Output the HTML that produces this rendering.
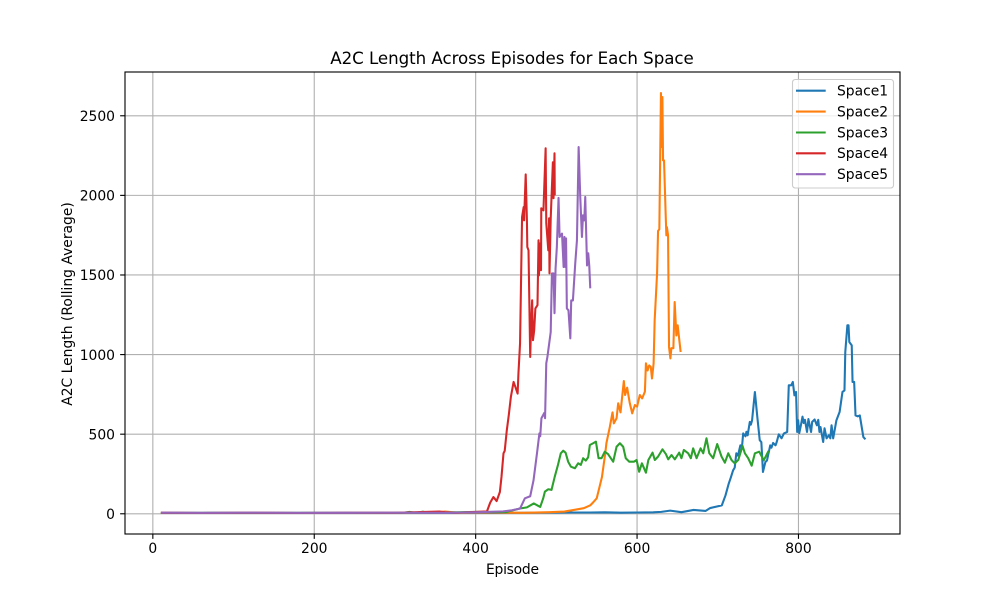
<!DOCTYPE html>
<html>
<head>
<meta charset="utf-8">
<title>A2C Length Across Episodes for Each Space</title>
<style>
html,body{margin:0;padding:0;background:#fff;width:1000px;height:600px;overflow:hidden}
svg{display:block}
text{font-family:"DejaVu Sans","Liberation Sans",sans-serif;font-size:13.89px;fill:#000}
</style>
</head>
<body>
<svg id="chart" width="1000" height="600" viewBox="0 0 1000 600" xmlns="http://www.w3.org/2000/svg">
  <defs><clipPath id="plot-clip"><rect x="125" y="72" width="775" height="462"/></clipPath></defs>
  <rect x="0" y="0" width="1000" height="600" fill="#fff"/>
  <text x="512" y="64" text-anchor="middle" textLength="363.5" style="font-size:16.67px">A2C Length Across Episodes for Each Space</text>
  <g id="grid"></g>
  <g id="series" clip-path="url(#plot-clip)"></g>
  <rect x="125" y="72" width="775" height="462" fill="none" stroke="#000" stroke-width="1.11"/>
  <g id="ticks"></g>
  <text x="512.5" y="574" text-anchor="middle" textLength="53">Episode</text>
  <text transform="translate(72,304) rotate(-90)" text-anchor="middle">A2C Length (Rolling Average)</text>
  <g>
    <rect x="792.5" y="79.5" width="101" height="108.5" rx="2.8" fill="#fff" fill-opacity="0.8" stroke="#ccc" stroke-width="1.11"/>
    <g><line x1="796" x2="825.7" y1="90.7" y2="90.7" stroke="#1f77b4" stroke-width="2.08"/><text x="837" y="95.5">Space1</text></g>
    <g><line x1="796" x2="825.7" y1="111.6" y2="111.6" stroke="#ff7f0e" stroke-width="2.08"/><text x="837" y="116.4">Space2</text></g>
    <g><line x1="796" x2="825.7" y1="132.5" y2="132.5" stroke="#2ca02c" stroke-width="2.08"/><text x="837" y="137.3">Space3</text></g>
    <g><line x1="796" x2="825.7" y1="153.3" y2="153.3" stroke="#d62728" stroke-width="2.08"/><text x="837" y="158.1">Space4</text></g>
    <g><line x1="796" x2="825.7" y1="174.2" y2="174.2" stroke="#9467bd" stroke-width="2.08"/><text x="837" y="179">Space5</text></g>
  </g>
</svg>
<script>
var xTickValues = [0, 200, 400, 600, 800];
var yTickValues = [0, 500, 1000, 1500, 2000, 2500];

var space1Episodes = [10,60,120,180,240,300,360,420,480,520,542,560,580,600,620,630,641,655,670,685,690.6,705,709.6,713.6,716,719,721,723,725,728,730,731.5,734.3,735.5,737,739.7,741,742.5,746,749,752,754,756,759,761,765,766.5,768.6,771.6,773,775.6,779,782,786,788,791,793,795,797,798.4,799.6,801,803,805,806.5,808,810.6,812.3,815.6,817,820,822.8,824.5,826,827.3,830.6,832.3,834.8,837.6,839.5,841,843,847,851,854.5,857,858,860.6,862,863,866,867,869,870.7,873.6,876,880.4,883];
var space1Values = [6,5,6,5,6,5,6,5,7,8,8,9,7,8,9,12,20,10,24,18,36,53,116,190,225,273,290,380,365,430,420,505,487,515,493,577,560,587,765,608,462,450,263,325,335,430,415,445,430,450,499,474,505,514,807,807,828,744,765,514,587,507,556,610,570,590,514,595,514,577,592,556,590,514,545,451,537,474,493,474,556,474,587,640,765,775,1016,1184,1184,1079,1058,828,828,618,612,618,482,468];

var space2Episodes = [10,60,120,180,240,300,350,362,380,420,460,492,510,534,542,546,550,556.5,560.6,562,566.3,569.6,571.2,574.6,576.6,579.5,583.6,585.2,587.7,591,594,597.3,600,603.4,606.3,609.7,611,613,615,617,618.5,620.5,621.8,624.8,626,627.6,629.6,630.5,631.4,632.2,633.4,635.4,636.3,637,638.4,639.6,641.3,642.5,645,646.6,648.7,650.3,654];
var space2Values = [6,5,6,5,5,6,8,14,6,8,6,10,14,35,53,74,97,231,380,443,547,637,568,600,694,637,834,746,792,694,631,683,673,746,725,767,945,900,932,922,850,945,1215,1510,1776,1787,2643,2304,2618,2220,2220,1886,1749,1800,1749,1048,976,1040,1040,1330,1120,1184,1016];

var space3Episodes = [10,70,130,190,250,310,318,326,335,342,400,438,455,463.5,472,480,483.7,485.8,490,494,498,502,505.5,508.5,511.4,514.6,518,523,527,530.3,533.2,536.5,539.4,541.5,545.6,549,552.3,556,560,564,570.4,574.6,578.7,582.8,586,590.4,596,599.4,602.6,606,611,614,619.2,622,626,631.5,635.7,638.6,642.7,646.8,652.2,655,658,663.3,666.6,669.5,673.7,678.7,682,686,689.5,694.3,699.3,704.7,708.8,713,717,721,725.4,730.7,733.6,737.7,742,746,751.3,757,763];
var space3Values = [5,6,5,6,5,6,12,6,13,6,12,11,33,40,65,43,97,139,154,150,233,307,380,396,384,327,296,286,317,307,349,334,355,432,443,453,349,349,390,375,327,421,443,421,349,327,327,338,264,317,258,338,384,338,359,405,375,342,369,342,384,349,401,380,349,411,349,411,380,474,380,349,438,359,321,380,338,317,338,426,380,349,302,380,390,336,395];

var space4Episodes = [10,60,120,180,240,300,355,362,375,400,414,418,422,426,430,432,434.5,436,438.6,441,443.6,447,449,452,453,455,457.5,459.5,460,462,463.5,464,465.5,467.6,468.5,470,471,472.5,474,476.6,477.9,478.4,480,481,481.3,484,486.7,487.5,490,491,491.5,493,495.7,496.5,497.7,498];
var space4Values = [6,5,6,5,6,6,14,10,6,12,15,70,105,80,137,231,380,395,525,618,733,828,800,755,880,1070,1864,1927,1843,2132,1843,1676,1655,985,1152,1341,1090,1152,1290,1310,1718,1498,1699,1530,1919,1906,2296,1825,1655,1856,1510,1856,2208,1982,2264,2000];

var space5Episodes = [10,60,120,180,240,300,360,400,434,445,455,461,467.6,471.7,476,479,480,481.5,485,486,487.5,488.9,493,494.5,496.5,497.7,499,500.6,502.7,504,507,509,510,511,512,513,515,517.3,518.4,520.5,523.4,525.5,527.6,529.6,531.7,533,534.6,535.8,538,539.5,540.8,542];
var space5Values = [7,6,7,6,6,7,6,9,15,22,33,97,110,210,380,505,487,600,633,600,945,985,1142,1510,1510,1260,1540,1676,1984,1739,1760,1550,1739,1550,1730,1290,1278,1102,1340,1340,1573,1718,2304,1990,1739,1875,1843,1990,1560,1636,1555,1416];

var seriesNames = ['space1', 'space2', 'space3', 'space4', 'space5'];
var seriesColors = ['#1f77b4', '#ff7f0e', '#2ca02c', '#d62728', '#9467bd'];
var seriesEpisodes = [space1Episodes, space2Episodes, space3Episodes, space4Episodes, space5Episodes];
var seriesValues = [space1Values, space2Values, space3Values, space4Values, space5Values];

var NS = 'http://www.w3.org/2000/svg';
var plotLeft = 125, plotRight = 900, plotTop = 72, plotBottom = 534;
var xMin = -34.5, xMax = 925.8, yMin = -127, yMax = 2775;

function xScale(v) { return plotLeft + (v - xMin) / (xMax - xMin) * (plotRight - plotLeft); }
function yScale(v) { return plotBottom - (v - yMin) / (yMax - yMin) * (plotBottom - plotTop); }

var gridGroup = document.getElementById('grid');
var tickGroup = document.getElementById('ticks');
var seriesGroup = document.getElementById('series');

function makeLine(parent, x1, y1, x2, y2, color, width) {
  var l = document.createElementNS(NS, 'line');
  l.setAttribute('x1', x1);
  l.setAttribute('y1', y1);
  l.setAttribute('x2', x2);
  l.setAttribute('y2', y2);
  l.setAttribute('stroke', color);
  l.setAttribute('stroke-width', width);
  parent.appendChild(l);
  return l;
}

xTickValues.forEach(function (v) {
  var x = xScale(v);
  var g = makeLine(gridGroup, x, plotTop, x, plotBottom, '#b0b0b0', 1.11);
  
  
  var t = makeLine(tickGroup, x, plotBottom, x, plotBottom + 4.86, '#000', 1.11);
  
  
  var s = document.createElementNS(NS, 'text');
  s.setAttribute('x', x);
  s.setAttribute('y', 553);
  s.setAttribute('text-anchor', 'middle');
  
  
  s.textContent = v;
  tickGroup.appendChild(s);
});

yTickValues.forEach(function (v) {
  var y = yScale(v);
  var g = makeLine(gridGroup, plotLeft, y, plotRight, y, '#b0b0b0', 1.11);
  
  
  var t = makeLine(tickGroup, plotLeft - 4.86, y, plotLeft, y, '#000', 1.11);
  
  
  var s = document.createElementNS(NS, 'text');
  s.setAttribute('x', 115);
  s.setAttribute('y', y + 5.2);
  s.setAttribute('text-anchor', 'end');
  
  
  s.textContent = v;
  tickGroup.appendChild(s);
});

seriesNames.forEach(function (name, i) {
  var eps = seriesEpisodes[i];
  var vals = seriesValues[i];
  var d = '';
  for (var k = 0; k < eps.length; k++) {
    d += (k ? 'L' : 'M') + xScale(eps[k]).toFixed(2) + ' ' + yScale(vals[k]).toFixed(2);
  }
  var p = document.createElementNS(NS, 'path');
  p.setAttribute('d', d);
  p.setAttribute('fill', 'none');
  p.setAttribute('stroke', seriesColors[i]);
  p.setAttribute('stroke-width', 2.08);
  p.setAttribute('stroke-linejoin', 'round');
  p.setAttribute('stroke-linecap', 'butt');
  
  
  seriesGroup.appendChild(p);
});
</script>
</body>
</html>
